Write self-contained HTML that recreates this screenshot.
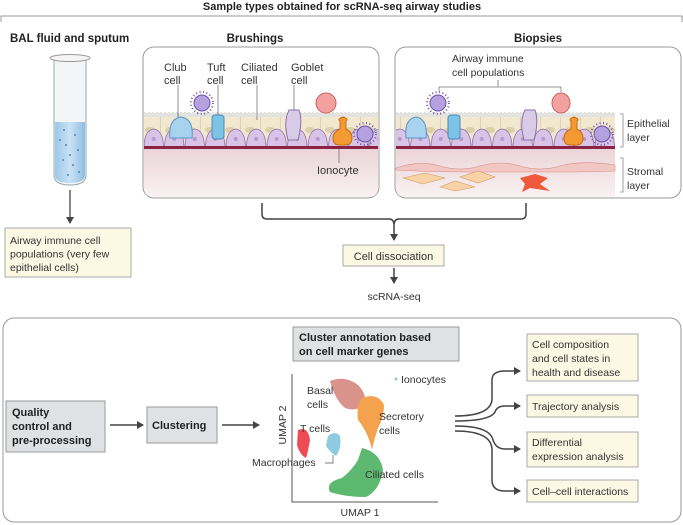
<!DOCTYPE html>
<html><head><meta charset="utf-8"><style>
body{margin:0;background:#fff}
svg{display:block;font-family:"Liberation Sans",sans-serif}
</style></head><body>
<svg width="683" height="525" viewBox="0 0 683 525" xmlns="http://www.w3.org/2000/svg">
<defs>
<linearGradient id="tis" x1="0" y1="0" x2="0" y2="1"><stop offset="0" stop-color="#ecd4d8"/><stop offset="1" stop-color="#f8f2f3"/></linearGradient>
<linearGradient id="liq" x1="0" y1="0" x2="1" y2="0"><stop offset="0" stop-color="#9cc8e8"/><stop offset="0.5" stop-color="#c9e2f4"/><stop offset="1" stop-color="#8fbfe2"/></linearGradient>
<pattern id="cil" x="0" y="112" width="4" height="6" patternUnits="userSpaceOnUse"><path d="M1 0V6M3 1V6" stroke="#8a8a7a" stroke-width="0.5"/></pattern>
<pattern id="col" x="0" y="117" width="20" height="30" patternUnits="userSpaceOnUse"><rect width="20" height="30" fill="#f1e8cf"/><path d="M0 0V30" stroke="#a99" stroke-width="0.6"/><ellipse cx="10" cy="13" rx="5" ry="3" fill="#ddd0a8"/></pattern>
<pattern id="bas" x="0" y="126" width="20.5" height="21" patternUnits="userSpaceOnUse"><path d="M0.5 21 Q1 4 10.25 3 Q19.5 4 20 21Z" fill="#d9c4e8" stroke="#8f6fae" stroke-width="0.8"/><circle cx="10.25" cy="13" r="2" fill="#b598cf"/></pattern>
<marker id="ar" markerWidth="8" markerHeight="8" refX="6" refY="4" orient="auto" markerUnits="userSpaceOnUse"><path d="M0 0L7 4L0 8Z" fill="#444"/></marker>
</defs>
<text x="342" y="10" text-anchor="middle" font-size="11" font-weight="bold" fill="#222">Sample types obtained for scRNA-seq airway studies</text>
<path d="M1 22V16H682V22" fill="none" stroke="#999" stroke-width="1"/>
<text x="10" y="42" font-size="11.5" font-weight="bold" fill="#222">BAL fluid and sputum</text>
<text x="255" y="42" text-anchor="middle" font-size="11.5" font-weight="bold" fill="#222">Brushings</text>
<text x="538" y="42" text-anchor="middle" font-size="11.5" font-weight="bold" fill="#222">Biopsies</text>
<path d="M54 60V175Q54 185 70 185Q86 185 86 175V60" fill="#f3f5f7" stroke="#9aa" stroke-width="1"/>
<path d="M55 122H85V175Q85 183 70 183Q55 183 55 175Z" fill="url(#liq)"/>
<ellipse cx="70" cy="58" rx="20" ry="3.5" fill="#f4f4f4" stroke="#999"/>
<g fill="#4a86c0"><circle cx="64" cy="130" r="1"/><circle cx="75" cy="135" r="1"/><circle cx="66" cy="145" r="1"/><circle cx="78" cy="150" r="1"/><circle cx="63" cy="160" r="1"/><circle cx="73" cy="165" r="1"/><circle cx="68" cy="175" r="1"/><circle cx="79" cy="172" r="1"/><circle cx="70" cy="155" r="1"/><circle cx="60" cy="140" r="1"/></g>
<path d="M70 190V223" stroke="#444" stroke-width="1.3" marker-end="url(#ar)"/>
<rect x="5" y="228" width="126" height="49" fill="#fbf8e4" stroke="#aaa"/>
<text font-size="10.5" fill="#333"><tspan x="10" y="244">Airway immune cell</tspan><tspan x="10" y="257.5">populations (very few</tspan><tspan x="10" y="271">epithelial cells)</tspan></text>
<rect x="143" y="47" width="236" height="151" rx="11" fill="#fff" stroke="#999"/>
<path d="M144 149H378V188Q378 197 368 197H154Q144 197 144 188Z" fill="url(#tis)"/>
<rect x="144" y="112" width="234" height="6" fill="url(#cil)"/>
<rect x="144" y="117" width="234" height="30" fill="url(#col)"/>
<rect x="144" y="126" width="234" height="21" fill="url(#bas)"/>
<rect x="144" y="146" width="234" height="3" fill="#8b2444"/>
<path d="M170 138Q168 119 181 117Q194 119 192 138Z" fill="#a8d2ee" stroke="#5a95c6"/>
<rect x="212" y="115" width="12" height="24" rx="3" fill="#7cc3e6" stroke="#4a8cb8"/>
<path d="M288 140Q283 122 289 110L299 110Q303 122 298 140Z" fill="#d8cbe8" stroke="#8f6fae"/>
<path d="M339 145Q333 145 333 138Q333 132 340 129V121Q337 119 343 117Q349 119 346 121V129Q352 132 352 138Q352 145 345 145Z" fill="#f39a32" stroke="#c86a10"/>
<circle cx="202" cy="103" r="8" fill="#b5a0e0" stroke="#6a55a8"/><circle cx="202" cy="103" r="11" fill="none" stroke="#6a55a8" stroke-dasharray="1 2.5" stroke-width="2"/>
<circle cx="365" cy="134" r="8" fill="#b5a0e0" stroke="#6a55a8"/><circle cx="365" cy="134" r="11" fill="none" stroke="#6a55a8" stroke-dasharray="1 2.5" stroke-width="2"/>
<ellipse cx="326" cy="103" rx="10" ry="10" fill="#f2a0a0" stroke="#c86060"/>
<g stroke="#666" stroke-width="0.7"><path d="M178 85V117M218 85V115M257 85V120M294 85V110M339 149V163"/></g>
<g font-size="11" fill="#333"><text x="164" y="71">Club</text><text x="164" y="84">cell</text><text x="207" y="71">Tuft</text><text x="207" y="84">cell</text><text x="241" y="71">Ciliated</text><text x="241" y="84">cell</text><text x="291" y="71">Goblet</text><text x="291" y="84">cell</text><text x="317" y="174">Ionocyte</text></g>
<rect x="395" y="47" width="286" height="151" rx="11" fill="#fff" stroke="#999"/>
<path d="M396 149H615V197H406Q396 197 396 188Z" fill="url(#tis)"/>
<rect x="396" y="112" width="219" height="6" fill="url(#cil)"/>
<rect x="396" y="117" width="219" height="30" fill="url(#col)"/>
<rect x="396" y="126" width="219" height="21" fill="url(#bas)"/>
<rect x="396" y="146" width="219" height="3" fill="#8b2444"/>
<path d="M406 138Q404 119 416 117Q428 119 426 138Z" fill="#a8d2ee" stroke="#5a95c6"/>
<rect x="448" y="115" width="12" height="24" rx="3" fill="#7cc3e6" stroke="#4a8cb8"/>
<path d="M524 140Q519 122 525 110L535 110Q539 122 534 140Z" fill="#d8cbe8" stroke="#8f6fae"/>
<path d="M570 145Q564 145 564 138Q564 132 571 129V121Q568 119 574 117Q580 119 577 121V129Q583 132 583 138Q583 145 576 145Z" fill="#f39a32" stroke="#c86a10"/>
<circle cx="438" cy="103" r="8" fill="#b5a0e0" stroke="#6a55a8"/><circle cx="438" cy="103" r="11" fill="none" stroke="#6a55a8" stroke-dasharray="1 2.5" stroke-width="2"/>
<circle cx="602" cy="134" r="8" fill="#b5a0e0" stroke="#6a55a8"/><circle cx="602" cy="134" r="11" fill="none" stroke="#6a55a8" stroke-dasharray="1 2.5" stroke-width="2"/>
<ellipse cx="561" cy="103" rx="9" ry="10" fill="#f2a0a0" stroke="#c86060"/>
<path d="M396 168Q420 160 440 166T480 166T520 166T560 166T615 165V171Q590 172 560 172T480 172T396 170Z" fill="#f2c6c2" stroke="#d58c86" stroke-width="0.6"/>
<g fill="#f8d3a8" stroke="#d89a5a" stroke-width="0.6"><path d="M403 178L425 173L445 178L423 184Z"/><path d="M440 187L455 181L475 187L455 191Z"/><path d="M460 177L478 171L495 177L478 183Z"/></g>
<path d="M520 178L535 174L548 178L540 184L550 191L530 188L522 192L525 184Z" fill="#f05a3c"/>
<path d="M439 91V87H561V92M498 87V80" fill="none" stroke="#777" stroke-width="0.8"/>
<g font-size="10.5" fill="#333"><text x="452" y="62">Airway immune</text><text x="452" y="76">cell populations</text><text x="627" y="127">Epithelial</text><text x="627" y="141">layer</text><text x="627" y="175">Stromal</text><text x="627" y="189">layer</text></g>
<path d="M620 114H623V147H620M620 158H623V192H620" fill="none" stroke="#888" stroke-width="0.8"/>
<path d="M262 203V214Q262 219 267 219H389Q394 219 394 225M526 203V214Q526 219 521 219H399Q394 219 394 225V240" fill="none" stroke="#444" stroke-width="1.5" marker-end="url(#ar)"/>
<rect x="343" y="245" width="101" height="21" fill="#fbf8e4" stroke="#aaa"/>
<text x="393.5" y="260" text-anchor="middle" font-size="11" fill="#333">Cell dissociation</text>
<path d="M394 268V283" stroke="#444" stroke-width="1.5" marker-end="url(#ar)"/>
<text x="394" y="300" text-anchor="middle" font-size="10.5" fill="#333">scRNA-seq</text>
<rect x="3" y="318" width="678" height="204" rx="11" fill="#fff" stroke="#999"/>
<rect x="293" y="327" width="166" height="34" fill="#dfe1e3" stroke="#999"/>
<text font-size="11" font-weight="bold" fill="#222"><tspan x="299" y="341">Cluster annotation based</tspan><tspan x="299" y="355">on cell marker genes</tspan></text>
<rect x="6" y="401" width="99" height="51" fill="#dfe1e3" stroke="#999"/>
<text font-size="11" font-weight="bold" fill="#222"><tspan x="12" y="416">Quality</tspan><tspan x="12" y="430">control and</tspan><tspan x="12" y="444">pre-processing</tspan></text>
<path d="M110 425H143" stroke="#444" stroke-width="1.5" marker-end="url(#ar)"/>
<rect x="147" y="407" width="70" height="36" fill="#dfe1e3" stroke="#999"/>
<text x="152" y="429" font-size="11" font-weight="bold" fill="#222">Clustering</text>
<path d="M222 425H259" stroke="#444" stroke-width="1.5" marker-end="url(#ar)"/>
<path d="M292 374V502H438" fill="none" stroke="#555"/>
<text transform="translate(286 425) rotate(-90)" text-anchor="middle" font-size="10.5" fill="#333">UMAP 2</text>
<text x="360" y="516" text-anchor="middle" font-size="10.5" fill="#333">UMAP 1</text>
<path d="M330 381Q345 375 358 385Q368 395 364 405Q355 412 345 408Q335 400 330 381Z" fill="#d9938a"/>
<path d="M362 398Q378 392 384 405Q384 418 378 428Q374 440 372 450Q368 432 358 420Q356 405 362 398Z" fill="#f5a24e"/>
<path d="M298 430Q308 426 310 440Q308 452 306 458Q300 455 297 445Z" fill="#ee4b55"/>
<path d="M328 436Q335 430 340 436Q342 448 336 456Q330 452 326 446Z" fill="#8ccbe0"/>
<path d="M362 448Q380 452 383 470Q380 490 366 497Q345 497 330 492Q325 482 342 478Q352 470 358 460Z" fill="#5db870"/>
<circle cx="396" cy="379" r="1.5" fill="#8ccbe0"/>
<path d="M325 463H333V455" fill="none" stroke="#555" stroke-width="0.7"/>
<g font-size="10.5" fill="#333"><text x="401" y="383">Ionocytes</text><text x="307" y="394">Basal</text><text x="307" y="408">cells</text><text x="379" y="420">Secretory</text><text x="379" y="434">cells</text><text x="300" y="432">T cells</text><text x="252" y="466">Macrophages</text><text x="365" y="478">Ciliated cells</text></g>
<path d="M455 416Q490 416 492 400V380Q492 371 505 371H520" fill="none" stroke="#444" stroke-width="1.5" marker-end="url(#ar)"/>
<path d="M455 421Q490 421 495 412Q497 406 505 406H520" fill="none" stroke="#444" stroke-width="1.5" marker-end="url(#ar)"/>
<path d="M455 426Q490 426 493 440Q496 449 505 449H520" fill="none" stroke="#444" stroke-width="1.5" marker-end="url(#ar)"/>
<path d="M455 431Q492 431 492 450V480Q492 491 505 491H520" fill="none" stroke="#444" stroke-width="1.5" marker-end="url(#ar)"/>
<g fill="#fbf8e4" stroke="#aaa"><rect x="527" y="334" width="111" height="47"/><rect x="527" y="395" width="111" height="22"/><rect x="527" y="432" width="111" height="35"/><rect x="527" y="480" width="111" height="22"/></g>
<g font-size="10.5" fill="#333"><text x="532" y="348">Cell composition</text><text x="532" y="362">and cell states in</text><text x="532" y="376">health and disease</text><text x="532" y="410">Trajectory analysis</text><text x="532" y="446">Differential</text><text x="532" y="460">expression analysis</text><text x="532" y="495">Cell–cell interactions</text></g>
</svg>
</body></html>
